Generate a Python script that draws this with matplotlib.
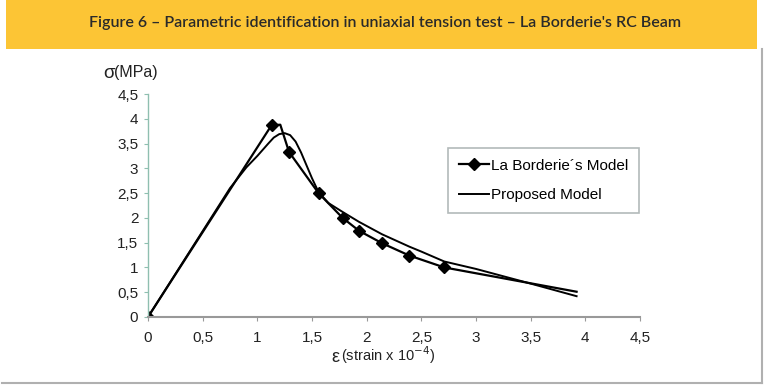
import numpy as np
import matplotlib.pyplot as plt
from matplotlib.lines import Line2D
from matplotlib.patches import Rectangle

# La Borderie's model (markers), strain x 1e-4 vs stress MPa
lb_x = [0, 1.13, 1.21, 1.29, 1.56, 1.78, 1.93, 2.14, 2.39, 2.71, 3.92]
lb_y = [0, 3.87, 3.88, 3.33, 2.50, 2.00, 1.74, 1.49, 1.24, 1.00, 0.51]
lb_marked = [0, 1, 3, 4, 5, 6, 7, 8, 9]

# Proposed model
pm_x = [0, 0.75, 0.9, 1.0, 1.1, 1.15, 1.2, 1.25, 1.3, 1.35, 1.4, 1.45, 1.5,
        1.56, 1.65, 1.78, 1.93, 2.14, 2.39, 2.5, 2.71, 3.0, 3.49, 3.92]
pm_y = [0, 2.6, 3.02, 3.25, 3.5, 3.62, 3.69, 3.71, 3.67, 3.54, 3.32, 3.06,
        2.8, 2.52, 2.3, 2.12, 1.92, 1.67, 1.42, 1.32, 1.12, 0.97, 0.68, 0.42]

xticks = [0, 0.5, 1, 1.5, 2, 2.5, 3, 3.5, 4, 4.5]
yticks = [0, 0.5, 1, 1.5, 2, 2.5, 3, 3.5, 4, 4.5]

title = "Figure 6 \u2013 Parametric identification in uniaxial tension test \u2013 La Borderie's RC Beam"

plt.rcParams['font.family'] = ['Liberation Sans', 'DejaVu Sans']

fig = plt.figure(figsize=(7.7, 3.85), dpi=100)
fig.patch.set_facecolor('white')

# yellow banner + outer frame
fig.add_artist(Rectangle((6 / 770, 1 - 49 / 385), 751 / 770, 49 / 385,
                         transform=fig.transFigure, facecolor='#fcc535',
                         edgecolor='none'))
fig.text(0.5, 1 - 23 / 385, title, ha='center', va='center', fontsize=11.5,
         color='#2a2a2a', family=['Lato', 'DejaVu Sans'], fontweight='semibold')
fig.add_artist(Line2D([762 / 770, 762 / 770], [2 / 385, 1 - 49 / 385],
                      transform=fig.transFigure, color='#b0b0b0', lw=1.5))
fig.add_artist(Line2D([2 / 770, 762 / 770], [2 / 385, 2 / 385],
                      transform=fig.transFigure, color='#b0b0b0', lw=1.5))

ax = fig.add_axes([148 / 770, 68 / 385, 492 / 770, 223 / 385])
ax.plot(lb_x, lb_y, color='black', lw=1.6, marker='D', ms=6,
        markevery=lb_marked, label='La Borderie\u00b4s Model')
ax.plot(pm_x, pm_y, color='black', lw=1.4, label='Proposed Model')

ax.set_xlim(0, 4.5)
ax.set_ylim(0, 4.5)
ax.set_xticks(xticks)
ax.set_yticks(yticks)
fmt = lambda v: f"{v:g}".replace('.', ',')
ax.set_xticklabels([fmt(v) for v in xticks])
ax.set_yticklabels([fmt(v) for v in yticks])
ax.tick_params(axis='both', labelsize=11, colors='#222222', length=3,
               width=0.8, pad=4)
ax.tick_params(axis='x', color='#999999', pad=7)
ax.tick_params(axis='y', color='#8fbfb0')
for side in ('top', 'right'):
    ax.spines[side].set_visible(False)
ax.spines['bottom'].set_color('#999999')
ax.spines['bottom'].set_linewidth(1.5)
ax.spines['left'].set_color('#8fbfb0')
ax.spines['left'].set_linewidth(1.0)

fig.text(103 / 770, 1 - 74 / 385, "\u03c3", fontsize=13.5, va='center',
         ha='left', color='#222222')
fig.text(114 / 770, 1 - 72 / 385, "(MPa)", fontsize=11.5, va='center',
         ha='left', color='#222222')
fig.text(331 / 770, 1 - 357 / 385, "\u03b5", fontsize=13, va='center',
         ha='left', color='#222222')
fig.text(341 / 770, 1 - 355 / 385, "(strain x 10$^{-4}$)", fontsize=10.5,
         va='center', ha='left', color='#222222')

leg = ax.legend(loc='upper left', bbox_to_anchor=(0.61, 0.758), fontsize=11,
                frameon=True, fancybox=False, edgecolor='#a0a8a8',
                handlelength=2.0, handletextpad=0.1, labelspacing=1.0,
                borderpad=0.7, borderaxespad=0)
leg.get_frame().set_linewidth(1.2)

fig.savefig('out.png', dpi=100)
